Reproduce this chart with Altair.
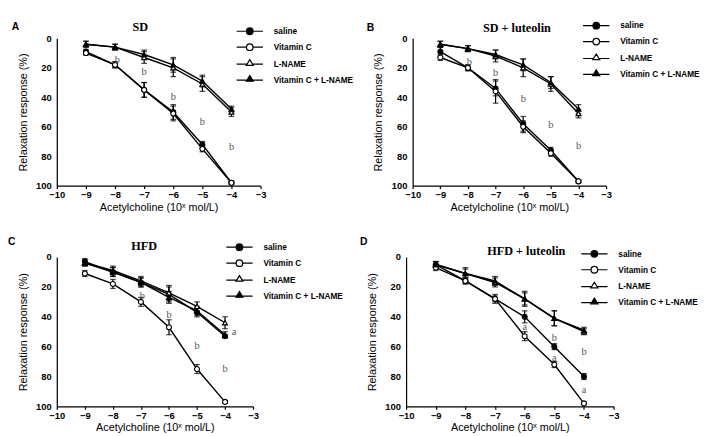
import altair as alt
import pandas as pd

X = [-9, -8, -7, -6, -5, -4]
SERIES = ["saline", "Vitamin C", "L-NAME", "Vitamin C + L-NAME"]
PANEL_LETTERS = ["A", "B", "C", "D"]
PANEL_TITLES = ["SD", "SD + luteolin", "HFD", "HFD + luteolin"]
X_TICKS = [-10, -9, -8, -7, -6, -5, -4, -3]
Y_TICKS = [0, 20, 40, 60, 80, 100]

A_SALINE = [9, 18, 35, 50, 72, 98]
A_VITC = [10, 18, 35, 51, 75, 98]
A_LNAME = [4, 6, 13, 20, 31, 50]
A_VCLN = [4, 6, 11, 18, 29, 48]
A_SALINE_ERR = [1.5, 2, 5, 5, 2, 1]
A_VITC_ERR = [1.5, 2, 5, 5, 2, 1]
A_LNAME_ERR = [2, 2, 4, 6, 5, 3]
A_VCLN_ERR = [2, 2, 3, 5, 4, 2]

B_SALINE = [9, 20, 34, 58, 76, 97]
B_VITC = [13, 20, 36, 60, 78, 97]
B_LNAME = [4, 7, 12, 20, 31, 51]
B_VCLN = [4, 7, 11, 18, 30, 48]
B_SALINE_ERR = [3, 2, 5, 5, 2, 1]
B_VITC_ERR = [2, 2, 8, 4, 2, 1]
B_LNAME_ERR = [2, 2, 4, 6, 5, 3]
B_VCLN_ERR = [2, 2, 3, 4, 4, 3]

C_SALINE = [3, 10, 17, 25, 37, 53]
C_VITC = [11, 18, 30, 47, 75, 97]
C_LNAME = [4, 9, 16, 24, 33, 44]
C_VCLN = [4, 10, 17, 27, 36, 52]
C_SALINE_ERR = [2, 3, 3, 5, 3, 1]
C_VITC_ERR = [2, 3, 3, 5, 3, 1]
C_LNAME_ERR = [2, 3, 3, 5, 3, 4]
C_VCLN_ERR = [2, 3, 3, 4, 3, 2]

D_SALINE = [5, 16, 28, 40, 60, 80]
D_VITC = [7, 16, 28, 53, 72, 98]
D_LNAME = [5, 11, 17, 28, 41, 50]
D_VCLN = [5, 11, 16, 28, 41, 49]
D_SALINE_ERR = [2, 2, 3, 4, 2, 2]
D_VITC_ERR = [2, 2, 2, 3, 2, 1]
D_LNAME_ERR = [2, 4, 3, 5, 5, 2]
D_VCLN_ERR = [2, 3, 3, 4, 5, 2]

A_SIG = ["b", "b", "b", "b", "b"]
A_SIG_X = [-7.92, -7, -6, -5, -4]
A_SIG_Y = [15, 23, 40, 57, 74]
B_SIG = ["b", "b", "b", "b", "b"]
B_SIG_X = [-7.95, -7, -6, -5, -4]
B_SIG_Y = [16, 24, 41, 59, 73]
C_SIG = ["b", "b", "b", "b", "a"]
C_SIG_X = [-6.95, -6, -5, -4, -3.68]
C_SIG_Y = [26, 39, 60, 75, 50]
D_SIG = ["a", "b", "a", "b", "a"]
D_SIG_X = [-6, -5, -5, -4, -4]
D_SIG_Y = [47, 54, 68, 64, 89]

FILLS = ["black", "white", "white", "black"]
SHAPES = ["circle", "circle", "triangle-up", "triangle-up"]
CIRCLE = "M-1,0A1,1 0 1,0 1,0A1,1 0 1,0 -1,0Z"
TRI = "M0,-1.35L1.05,0.35L-1.05,0.35Z"
LEG_CIRCLE = "M-4,0H-1M1,0H4" + CIRCLE
LEG_TRI = "M-4,0H-0.83M0.83,0H4" + TRI
LEG_SHAPES = [LEG_CIRCLE, LEG_CIRCLE, LEG_TRI, LEG_TRI]

PANELS = [
    dict(vals=[A_SALINE, A_VITC, A_LNAME, A_VCLN],
         errs=[A_SALINE_ERR, A_VITC_ERR, A_LNAME_ERR, A_VCLN_ERR],
         sig=(A_SIG, A_SIG_X, A_SIG_Y), w=217, h=157,
         letter=(-48, -12), title=(89, -12), legend=(201, -12)),
    dict(vals=[B_SALINE, B_VITC, B_LNAME, B_VCLN],
         errs=[B_SALINE_ERR, B_VITC_ERR, B_LNAME_ERR, B_VCLN_ERR],
         sig=(B_SIG, B_SIG_X, B_SIG_Y), w=206, h=157,
         letter=(-49, -11), title=(111, -11), legend=(191, -18)),
    dict(vals=[C_SALINE, C_VITC, C_LNAME, C_VCLN],
         errs=[C_SALINE_ERR, C_VITC_ERR, C_LNAME_ERR, C_VCLN_ERR],
         sig=(C_SIG, C_SIG_X, C_SIG_Y), w=209, h=159,
         letter=(-52, -16), title=(93, -12), legend=(190, -15)),
    dict(vals=[D_SALINE, D_VITC, D_LNAME, D_VCLN],
         errs=[D_SALINE_ERR, D_VITC_ERR, D_LNAME_ERR, D_VCLN_ERR],
         sig=(D_SIG, D_SIG_X, D_SIG_Y), w=221, h=159,
         letter=(-49, -16), title=(128, -6), legend=(196, -8)),
]

X_SCALE = alt.Scale(domain=[-10, -3], nice=False, zero=False)
Y_SCALE = alt.Scale(domain=[0, 100], reverse=True, nice=False, zero=False)
X_AXIS = alt.Axis(values=X_TICKS, title="Acetylcholine (10ˣ mol/L)",
                  labelFlush=False, labelOverlap=False, grid=False,
                  tickSize=3, labelPadding=2, titlePadding=2)
Y_AXIS = alt.Axis(values=Y_TICKS, title="Relaxation response (%)",
                  labelOverlap=False, ticks=False, grid=False, labelPadding=6,
                  titlePadding=8)


def xq(field):
    return alt.X(f"{field}:Q", scale=X_SCALE, axis=X_AXIS)


def yq(field):
    return alt.Y(f"{field}:Q", scale=Y_SCALE, axis=Y_AXIS)


def make_panel(i):
    p = PANELS[i]
    rows = []
    for s, vals, errs in zip(SERIES, p["vals"], p["errs"]):
        for x, v, e in zip(X, vals, errs):
            rows.append(dict(series=s, x=x, y=v, lo=max(v - e, 0), hi=min(v + e, 100)))
    df = pd.DataFrame(rows)
    sig_lab, sig_x, sig_y = p["sig"]
    sig_df = pd.DataFrame(dict(lab=sig_lab, x=sig_x, y=sig_y))

    base = alt.Chart(df)
    lines = base.mark_line(color="black", strokeWidth=1.5).encode(
        x=xq("x"), y=yq("y"), detail="series:N")
    rules = base.mark_rule(color="black", strokeWidth=1.3).encode(
        x=xq("x"), y=yq("lo"), y2="hi:Q")
    cap_lo = base.mark_tick(color="black", orient="horizontal", size=6,
                            thickness=1.3).encode(x=xq("x"), y=yq("lo"))
    cap_hi = base.mark_tick(color="black", orient="horizontal", size=6,
                            thickness=1.3).encode(x=xq("x"), y=yq("hi"))
    points = base.mark_point(filled=True, size=28, stroke="black",
                             strokeWidth=1.2, opacity=1).encode(
        x=xq("x"), y=yq("y"),
        fill=alt.Fill("series:N", scale=alt.Scale(domain=SERIES, range=FILLS),
                      legend=None),
        shape=alt.Shape("series:N", scale=alt.Scale(domain=SERIES, range=SHAPES),
                        legend=None))

    lx, ly = p["legend"]
    leg = alt.Legend(title=None, orient="none", legendX=lx, legendY=ly,
                     labelFont="Liberation Sans", labelFontWeight="bold",
                     labelFontSize=8.8, labelColor="black", labelOffset=21,
                     rowPadding=4, padding=0, symbolOffset=0,
                     symbolStrokeColor="black", symbolStrokeWidth=1.3,
                     symbolSize=49)
    legend_layer = base.transform_filter("false").mark_point(
        filled=True, size=49, strokeWidth=1.3, opacity=1).encode(
        fill=alt.Fill("series:N", scale=alt.Scale(domain=SERIES, range=FILLS),
                      legend=leg),
        stroke=alt.Stroke("series:N",
                          scale=alt.Scale(domain=SERIES, range=["black"] * 4),
                          legend=leg),
        shape=alt.Shape("series:N", scale=alt.Scale(domain=SERIES, range=LEG_SHAPES),
                        legend=leg))

    sig = alt.Chart(sig_df).mark_text(font="Liberation Serif", fontSize=11,
                                      color="#555555", align="center",
                                      baseline="middle").encode(
        x=xq("x"), y=yq("y"), text="lab:N")

    tx, ty = p["title"]
    title = alt.Chart(pd.DataFrame(dict(t=[PANEL_TITLES[i]]))).mark_text(
        font="Liberation Serif", fontSize=13, fontWeight="bold", color="black",
        align="center", baseline="middle").encode(
        x=alt.value(tx), y=alt.value(ty), text="t:N")
    lxx, lyy = p["letter"]
    letter = alt.Chart(pd.DataFrame(dict(t=[PANEL_LETTERS[i]]))).mark_text(
        font="Liberation Sans", fontSize=11, fontWeight="bold", color="black",
        align="left", baseline="middle").encode(
        x=alt.value(lxx), y=alt.value(lyy), text="t:N")

    return alt.layer(lines, rules, cap_lo, cap_hi, points, legend_layer, sig,
                     title, letter).resolve_scale(
        shape="independent", fill="independent", stroke="independent").properties(
        width=p["w"], height=p["h"])


row1 = alt.hconcat(make_panel(0), make_panel(1), spacing=14).resolve_scale(
    shape="independent", fill="independent", stroke="independent")
row2 = alt.hconcat(make_panel(2), make_panel(3), spacing=18).resolve_scale(
    shape="independent", fill="independent", stroke="independent")
chart = alt.vconcat(row1, row2, spacing=25).resolve_scale(
    shape="independent", fill="independent", stroke="independent").configure_view(
    stroke=None).configure_axis(
    domainColor="black", domainWidth=1.3, tickColor="black", tickWidth=1.3,
    labelFont="Liberation Sans", labelFontWeight="bold", labelFontSize=10,
    labelColor="black", labelOverlap=False, titleFont="Liberation Sans",
    titleFontWeight="normal", titleFontSize=11.5, titleColor="black").properties(
    background="white", padding=0)

chart.save("out.html", embed_options={"renderer": "svg", "actions": False})
